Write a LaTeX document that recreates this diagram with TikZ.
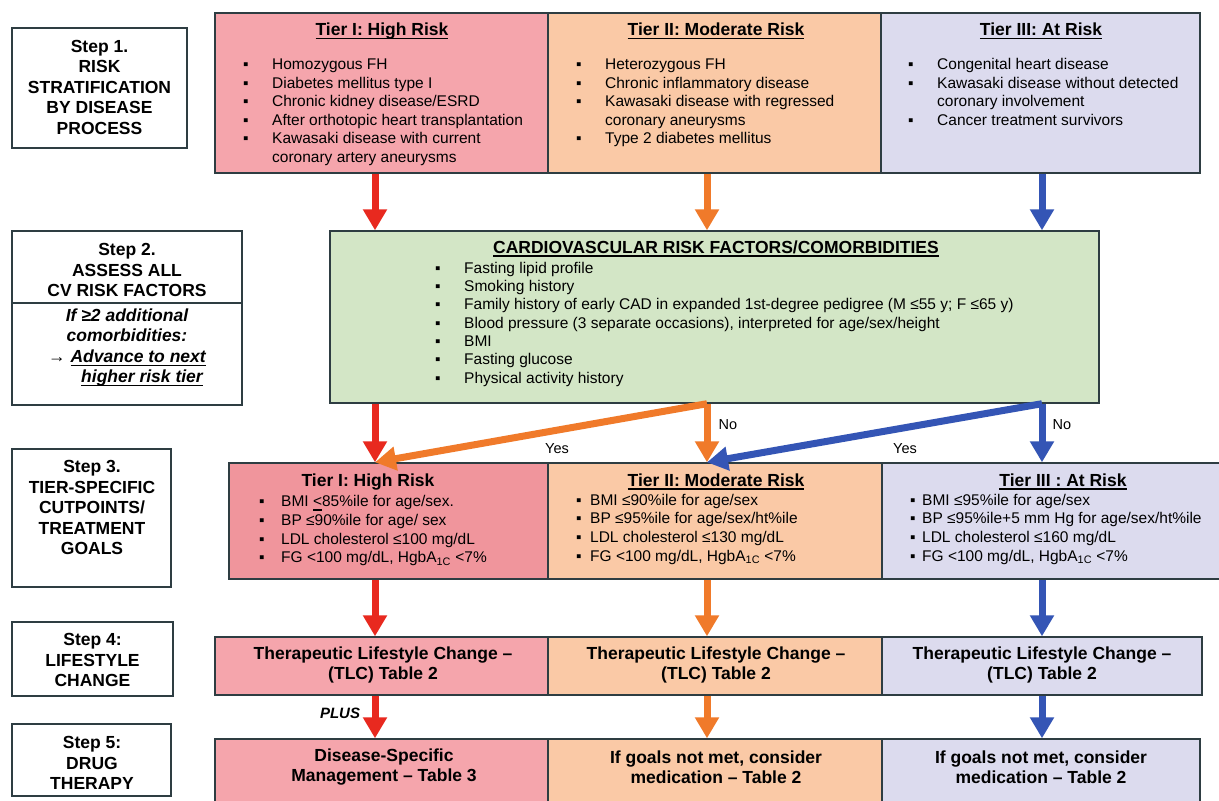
\documentclass[tikz,border=0pt]{standalone}
\usepackage{fontspec}
\setmainfont{Liberation Sans}
\usetikzlibrary{arrows.meta}

\definecolor{pinkA}{HTML}{F5A5AC}
\definecolor{pinkB}{HTML}{F0959C}
\definecolor{peach}{HTML}{FAC9A6}
\definecolor{lilac}{HTML}{DCDBEE}
\definecolor{mint}{HTML}{D3E6C6}
\definecolor{edge}{HTML}{2E3D42}
\definecolor{redA}{HTML}{E8291F}
\definecolor{orangeA}{HTML}{F07A2A}
\definecolor{blueA}{HTML}{3455B5}

\newsavebox\ulbox
\newcommand{\uln}[1]{\sbox\ulbox{#1}\rlap{\vrule width\wd\ulbox height -2.4pt depth 3.7pt}\usebox\ulbox}
\newcommand{\bul}[1][29pt]{\makebox[#1][l]{▪}}
\newcommand{\hba}{HgbA\textsubscript{1C}}

\begin{document}
\begin{tikzpicture}[x=1pt,y=-1pt,
  box/.style={draw=edge, line width=1.4pt, inner sep=0},
  stepbox/.style={draw=edge, line width=1.8pt, fill=white, inner sep=0},
  steptext/.style={font=\fontsize{17.5}{20.5}\selectfont\bfseries, align=center, inner sep=0},
  head/.style={font=\fontsize{17.5}{20}\selectfont\bfseries, anchor=base, inner sep=0},
  list/.style={font=\fontsize{15.5}{18.5}\selectfont, align=left, anchor=north west, inner sep=0},
  tag/.style={font=\fontsize{14.5}{17}\selectfont, inner sep=0},
  flow/.style={line width=7pt, -{Triangle[width=23pt,length=21pt]}}]

  \fill[white] (0,0) rectangle (1219,801);
  \clip (0,0) rectangle (1219,801);

  \coordinate (c1) at (375,0);
  \coordinate (c2) at (707,0);
  \coordinate (c3) at (1042,0);

  \node[stepbox, minimum width=175pt, minimum height=120pt] (s1) at (99.5,88) {};
  \node[stepbox, minimum width=230pt, minimum height=174pt] (s2) at (127,318) {};
  \node[stepbox, minimum width=159pt, minimum height=138pt] (s3) at (91.5,518) {};
  \node[stepbox, minimum width=161pt, minimum height=74pt]  (s4) at (92.5,659) {};
  \node[stepbox, minimum width=159pt, minimum height=72pt]  (s5) at (91.5,760) {};
  \draw[edge, line width=1.8pt] (s2.west |- 0,303) -- (s2.east |- 0,303);

  \node[steptext] (st1) at (99.5,87) {Step 1.\\RISK\\STRATIFICATION\\BY DISEASE\\PROCESS};
  \node[steptext] (st2) at (127,270) {Step 2.\\ASSESS ALL\\CV RISK FACTORS};
  \node[steptext, font=\fontsize{17.5}{20.5}\selectfont\bfseries\itshape] (st2b) at (127,347.5)
    {If ≥2 additional\\comorbidities:\\→ \uln{Advance to next}\\\hspace*{30pt}\uln{higher risk tier}};
  \node[steptext] (st3) at (92,507.5) {Step 3.\\TIER-SPECIFIC\\CUTPOINTS/\\TREATMENT\\GOALS};
  \node[steptext] (st4) at (92.5,660) {Step 4:\\LIFESTYLE\\CHANGE};
  \node[steptext] (st5) at (92,763) {Step 5:\\DRUG\\THERAPY};

  \node[box, fill=pinkA, minimum width=333pt, minimum height=160pt] (t1) at (381.5,93) {};
  \node[box, fill=peach, minimum width=333pt, minimum height=160pt] (t2) at (714.5,93) {};
  \node[box, fill=lilac, minimum width=319pt, minimum height=160pt] (t3) at (1040.5,93) {};

  \node[head] (th1) at (382,35.5) {\uln{Tier I: High Risk}};
  \node[head] (th2) at (716,35.5) {\uln{Tier II: Moderate Risk}};
  \node[head] (th3) at (1041,35.5) {\uln{Tier III: At Risk}};

  \node[list] (tl1) at (243,56.4) {\strut\bul Homozygous FH\\\bul Diabetes mellitus type I\\
    \bul Chronic kidney disease/ESRD\\\bul After orthotopic heart transplantation\\
    \bul Kawasaki disease with current\\\hspace*{29pt}coronary artery aneurysms};
  \node[list] (tl2) at (576,56.4) {\strut\bul Heterozygous FH\\\bul Chronic inflammatory disease\\
    \bul Kawasaki disease with regressed\\\hspace*{29pt}coronary aneurysms\\
    \bul Type 2 diabetes mellitus};
  \node[list] (tl3) at (908,56.4) {\strut\bul Congenital heart disease\\
    \bul Kawasaki disease without detected\\\hspace*{29pt}coronary involvement\\
    \bul Cancer treatment survivors};

  \node[box, fill=mint, minimum width=769pt, minimum height=172pt] (cv) at (714.5,317) {};
  \node[head] (cvh) at (716,253) {\uln{CARDIOVASCULAR RISK FACTORS/COMORBIDITIES}};
  \node[list, font=\fontsize{15.5}{18.3}\selectfont] (cvl) at (435,260.2) {\strut\bul Fasting lipid profile\\
    \bul Smoking history\\
    \bul Family history of early CAD in expanded 1st-degree pedigree (M ≤55 y; F ≤65 y)\\
    \bul Blood pressure (3 separate occasions), interpreted for age/sex/height\\
    \bul BMI\\\bul Fasting glucose\\\bul Physical activity history};

  \node[box, fill=pinkB, minimum width=319pt, minimum height=116pt] (g1) at (388.5,521) {};
  \node[box, fill=peach, minimum width=334pt, minimum height=116pt] (g2) at (715,521) {};
  \node[box, fill=lilac, minimum width=343pt, minimum height=116pt] (g3) at (1053.5,521) {};

  \node[head] (gh1) at (368,486) {Tier I: High Risk};
  \node[head] (gh2) at (716,486) {\uln{Tier II: Moderate Risk}};
  \node[head] (gh3) at (1063,486) {\uln{Tier III : At Risk}};

  \node[list, font=\fontsize{15.5}{18.6}\selectfont] (gl1) at (259,493.7) {\strut\bul[22pt]BMI \uln{<}85\%ile for age/sex.\\
    \bul[22pt]BP ≤90\%ile for age/ sex\\\bul[22pt]LDL cholesterol ≤100 mg/dL\\
    \bul[22pt]FG <100 mg/dL, \hba{} <7\%};
  \node[list, font=\fontsize{15.5}{18.6}\selectfont] (gl2) at (576,492) {\strut\bul[14pt]BMI ≤90\%ile for age/sex\\
    \bul[14pt]BP ≤95\%ile for age/sex/ht\%ile\\\bul[14pt]LDL cholesterol ≤130 mg/dL\\
    \bul[14pt]FG <100 mg/dL, \hba{} <7\%};
  \node[list, font=\fontsize{15.5}{18.6}\selectfont] (gl3) at (910,492) {\strut\bul[12pt]BMI ≤95\%ile for age/sex\\
    \bul[12pt]BP ≤95\%ile+5 mm Hg for age/sex/ht\%ile\\\bul[12pt]LDL cholesterol ≤160 mg/dL\\
    \bul[12pt]FG <100 mg/dL, \hba{} <7\%};

  \node[box, fill=pinkA, minimum width=333pt, minimum height=58pt] (l1) at (381.5,666) {};
  \node[box, fill=peach, minimum width=334pt, minimum height=58pt] (l2) at (715,666) {};
  \node[box, fill=lilac, minimum width=320pt, minimum height=58pt] (l3) at (1042,666) {};
  \node[steptext] (lt1) at (383,665) {Therapeutic Lifestyle Change –\\(TLC) Table 2};
  \node[steptext] (lt2) at (716,665) {Therapeutic Lifestyle Change –\\(TLC) Table 2};
  \node[steptext] (lt3) at (1042,665) {Therapeutic Lifestyle Change –\\(TLC) Table 2};

  \node[box, fill=pinkA, minimum width=333pt, minimum height=69pt] (d1) at (381.5,773.5) {};
  \node[box, fill=peach, minimum width=334pt, minimum height=69pt] (d2) at (715,773.5) {};
  \node[box, fill=lilac, minimum width=318pt, minimum height=69pt] (d3) at (1041,773.5) {};
  \node[steptext] (dt1) at (384,767) {Disease-Specific\\Management – Table 3};
  \node[steptext] (dt2) at (716,767) {If goals not met, consider\\medication – Table 2};
  \node[steptext] (dt3) at (1041,767) {If goals not met, consider\\medication – Table 2};

  \draw[flow, redA] (t1.south -| c1) -- (cv.north -| c1);
  \draw[flow, orangeA] (t2.south -| c2) -- (cv.north -| c2);
  \draw[flow, blueA] (t3.south -| c3) -- (cv.north -| c3);

  \draw[flow, orangeA] (cv.south -| c2) -- (g1.north -| c1);
  \draw[flow, redA] (cv.south -| c1) -- (g1.north -| c1);
  \draw[flow, orangeA] (cv.south -| c2) -- (g2.north -| c2);
  \draw[flow, blueA] (cv.south -| c3) -- (g2.north -| c2);
  \draw[flow, blueA] (cv.south -| c3) -- (g3.north -| c3);

  \node[tag] (yes1) at (557,449) {Yes};
  \node[tag] (no1) at (728,425) {No};
  \node[tag] (yes2) at (905,449) {Yes};
  \node[tag] (no2) at (1062,425) {No};

  \draw[flow, redA] (g1.south -| c1) -- (l1.north -| c1);
  \draw[flow, orangeA] (g2.south -| c2) -- (l2.north -| c2);
  \draw[flow, blueA] (g3.south -| c3) -- (l3.north -| c3);

  \draw[flow, redA] (l1.south -| c1) -- (d1.north -| c1);
  \draw[flow, orangeA] (l2.south -| c2) -- (d2.north -| c2);
  \draw[flow, blueA] (l3.south -| c3) -- (d3.north -| c3);

  \node[tag, font=\fontsize{15}{17}\selectfont\bfseries\itshape] (plus) at (340,713) {PLUS};
\end{tikzpicture}
\end{document}
